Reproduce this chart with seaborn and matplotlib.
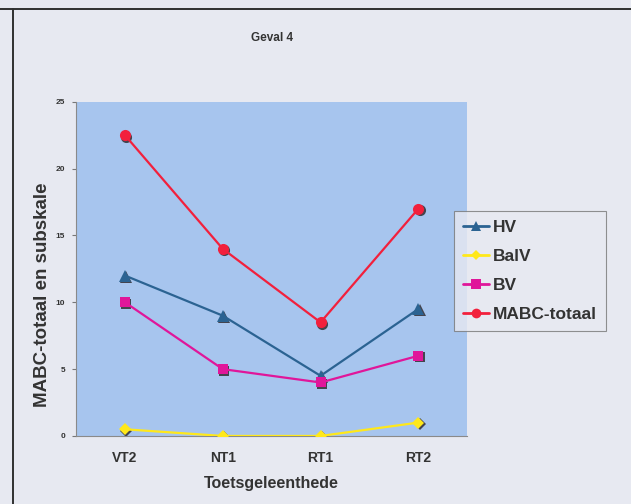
import matplotlib
matplotlib.use("Agg")
import matplotlib.pyplot as plt
import matplotlib.transforms as mtransforms
from matplotlib.lines import Line2D
import seaborn as sns
import pandas as pd

# Test occasions and subscale scores
categories = ["VT2", "NT1", "RT1", "RT2"]
hv = [12, 9, 4.5, 9.5]
balv = [0.5, 0, 0, 1]
bv = [10, 5, 4, 6]
mabc_totaal = [22.5, 14, 8.5, 17]
series_names = ["HV", "BalV", "BV", "MABC-totaal"]
y_ticks = [0, 5, 10, 15, 20, 25]

colors = {"HV": "#2b6392", "BalV": "#ffe81a", "BV": "#e0169a", "MABC-totaal": "#f2203c"}
markers = {"HV": "^", "BalV": "D", "BV": "s", "MABC-totaal": "o"}
msizes = {"HV": 8.5, "BalV": 6.5, "BV": 7.5, "MABC-totaal": 8}

rows = []
for name, vals in zip(series_names, [hv, balv, bv, mabc_totaal]):
    for i, (cat, v) in enumerate(zip(categories, vals)):
        rows.append({"pos": i, "occasion": cat, "series": name, "score": v})
df = pd.DataFrame(rows)

sns.set_theme(style="white")
plt.rcParams["font.family"] = ["Liberation Sans", "DejaVu Sans"]
plt.rcParams["font.weight"] = "bold"

bg = "#e7e9f1"
fig = plt.figure(figsize=(6.31, 5.04), dpi=100, facecolor=bg)
ax = fig.add_axes([0.1205, 0.135, 0.62, 0.663])
ax.set_facecolor("#a7c5ee")

# marker drop shadows
shadow_tf = mtransforms.offset_copy(ax.transData, fig=fig, x=1.5, y=-1.5, units="dots")
for name in series_names:
    sub = df[df["series"] == name]
    ax.plot(sub["pos"], sub["score"], linestyle="none", marker=markers[name],
            markersize=msizes[name], color="#44444e", markeredgewidth=0,
            transform=shadow_tf, label="_shadow", zorder=2)

for name in series_names:
    sub = df[df["series"] == name]
    sns.lineplot(data=sub, x="pos", y="score", ax=ax, color=colors[name],
                 marker=markers[name], markersize=msizes[name],
                 markeredgewidth=0, linewidth=1.6, label=name, zorder=3,
                 legend=False)

ax.set_xlim(-0.5, 3.5)
ax.set_ylim(0, 25)
ax.set_yticks(y_ticks)
ax.set_yticklabels([str(t) for t in y_ticks], fontsize=6, fontweight="bold", color="#333333")
ax.set_xticks(range(len(categories)))
ax.set_xticklabels(categories, fontsize=10, fontweight="bold", color="#333333")
ax.set_xticks([-0.5, 0.5, 1.5, 2.5, 3.5], minor=True)
ax.tick_params(axis="x", which="major", length=0, pad=11)
ax.tick_params(axis="x", which="minor", length=4, width=0.8, color="#777777", direction="out")
ax.tick_params(axis="y", length=3, width=0.8, color="#777777", direction="out", pad=5, left=True)

for side in ["top", "right"]:
    ax.spines[side].set_visible(False)
for side in ["left", "bottom"]:
    ax.spines[side].set_color("#8a8a8a")
    ax.spines[side].set_linewidth(0.8)

ax.set_xlabel("Toetsgeleenthede", fontsize=11.5, fontweight="bold", color="#333333", labelpad=8)
ax.set_ylabel("MABC-totaal en subskale", fontsize=13.5, fontweight="bold", color="#333333")
ax.yaxis.set_label_coords(-0.064, 0.422)
ax.set_title("Geval 4", fontsize=8.5, fontweight="bold", color="#333333", pad=44)

handles = [Line2D([0], [0], color=colors[n], marker=markers[n], markersize=msizes[n] - 1,
                  markeredgewidth=0, linewidth=2) for n in series_names]
leg = fig.legend(handles, series_names, loc="upper left",
                 bbox_to_anchor=(454 / 631, 1 - 211 / 504), borderaxespad=0,
                 frameon=True, prop={"size": 12.5, "weight": "bold"},
                 handlelength=1.5, handletextpad=0.25, labelspacing=0.8,
                 borderpad=0.5, fancybox=False)
leg.get_frame().set_facecolor(bg)
leg.get_frame().set_edgecolor("#777777")
leg.get_frame().set_linewidth(0.8)
for t in leg.get_texts():
    t.set_color("#333333")

# page borders
fig.add_artist(Line2D([0, 1], [1 - 9 / 504] * 2, color="#303030", linewidth=1.4,
                      transform=fig.transFigure))
fig.add_artist(Line2D([13 / 631] * 2, [0, 1 - 9 / 504], color="#303030", linewidth=1.4,
                      transform=fig.transFigure))

fig.savefig("out.png", dpi=100, facecolor=bg)
